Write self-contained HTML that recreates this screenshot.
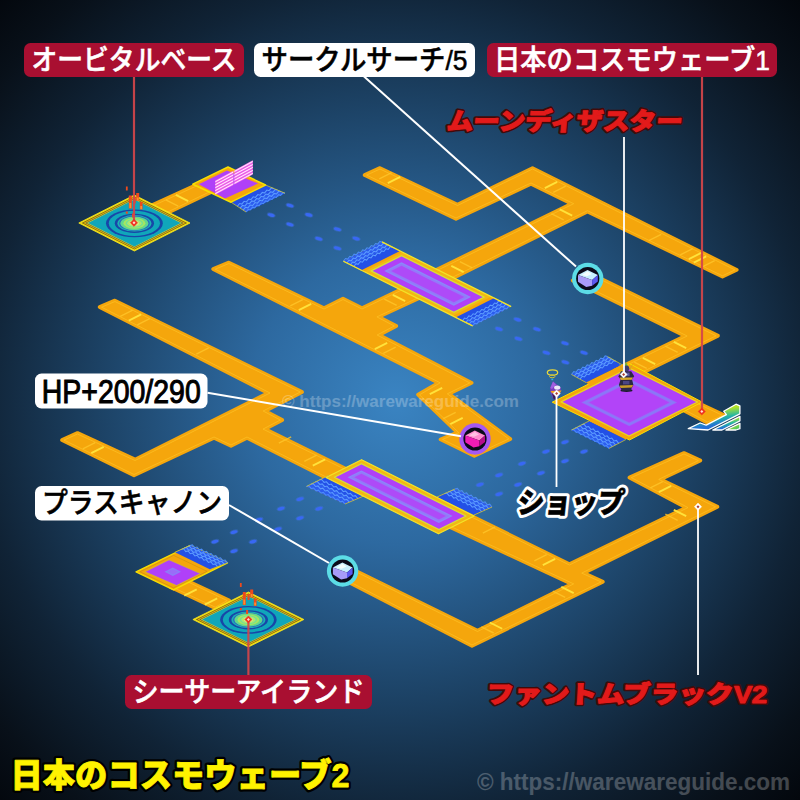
<!DOCTYPE html>
<html lang="ja"><head><meta charset="utf-8"><title>日本のコスモウェーブ2</title>
<style>
html,body{margin:0;padding:0;background:#04080e;}
body{width:800px;height:800px;overflow:hidden;font-family:"Liberation Sans","Noto Sans CJK JP",sans-serif;}
svg{display:block}
.lb{font-family:"Liberation Sans","Noto Sans CJK JP",sans-serif;font-weight:700;font-size:26px;}
.br{font-family:"Liberation Sans","Noto Sans CJK JP",sans-serif;font-weight:900;}
</style></head><body>
<svg width="800" height="800" viewBox="0 0 800 800">
<defs>
<radialGradient id="bg" gradientUnits="userSpaceOnUse" cx="396" cy="400" r="580">
<stop offset="0" stop-color="#3a84c2"/>
<stop offset="0.25" stop-color="#2d69a0"/>
<stop offset="0.5" stop-color="#1d4468"/>
<stop offset="0.72" stop-color="#102336"/>
<stop offset="0.88" stop-color="#081019"/>
<stop offset="1" stop-color="#02050a"/>
</radialGradient>
<linearGradient id="stripe" x1="0.35" y1="0" x2="0.65" y2="1">
<stop offset="0.25" stop-color="#b4e424"/><stop offset="0.55" stop-color="#22b4a8"/><stop offset="0.8" stop-color="#2470d4"/>
</linearGradient>
<linearGradient id="stripe2" x1="0" y1="0" x2="1" y2="1">
<stop offset="0.3" stop-color="#b4e424"/><stop offset="0.9" stop-color="#38c070"/>
</linearGradient>
</defs>
<rect width="800" height="800" fill="url(#bg)"/>

<g stroke-linejoin="round">
<polygon points="364.7,175.1 456.0,218.9 531.0,183.9 571.8,203.7 432.2,271.9 449.5,279.7 587.5,211.6 722.5,276.6 736.7,269.9 532.5,168.1 457.5,204.6 380.0,168.1" fill="#F5A60C" stroke="#F5A60C" stroke-width="3.8"/>
<polygon points="366.6,175.1 456.0,218.0 531.0,183.0 573.7,203.7 434.1,271.9 449.4,278.8 587.5,210.7 722.5,275.8 734.9,269.9 532.5,169.0 457.5,205.5 380.0,169.0" fill="none" stroke="#ffc62a" stroke-width="1.0" opacity="0.6"/>
<polygon points="572.7,280.6 685.3,336.0 614.8,370.0 630.1,378.8 718.0,335.7 589.5,273.1" fill="#F5A60C" stroke="#F5A60C" stroke-width="3.8"/>
<polygon points="574.6,280.6 687.2,336.0 616.5,370.1 630.1,377.9 716.2,335.8 589.4,274.0" fill="none" stroke="#ffc62a" stroke-width="1.0" opacity="0.6"/>
<polygon points="213.2,269.1 438.5,382.9 418.1,394.6 457.4,432.4 440.6,439.4 474.3,455.9 510.3,439.1 448.8,393.9 471.6,382.9 378.9,335.0 396.2,326.0 378.7,316.9 426.2,294.9 409.9,285.2 362.0,308.1 343.0,298.6 324.0,308.1 228.9,262.6" fill="#F5A60C" stroke="#F5A60C" stroke-width="3.8"/>
<polygon points="215.2,269.2 440.2,382.8 419.5,394.8 458.8,432.7 442.5,439.4 474.3,455.0 508.8,438.9 447.3,393.8 469.8,382.9 377.1,335.0 394.4,326.0 376.9,316.9 424.5,294.8 409.9,286.1 362.0,309.0 343.0,299.5 324.0,309.0 228.9,263.5" fill="none" stroke="#ffc62a" stroke-width="1.0" opacity="0.6"/>
<polygon points="99.7,307.1 268.2,393.0 135.0,459.6 77.5,433.1 62.1,440.1 134.0,475.4 214.0,437.9 231.0,445.9 247.0,437.9 338.0,483.9 356.2,474.0 264.8,429.0 282.2,420.0 264.9,411.0 302.0,392.0 114.9,300.6" fill="#F5A60C" stroke="#F5A60C" stroke-width="3.8"/>
<polygon points="101.6,307.2 270.0,393.0 135.0,460.5 77.5,434.0 64.0,440.1 134.0,474.5 214.0,437.0 231.0,445.0 247.0,437.0 338.0,483.0 354.4,474.0 263.0,429.1 280.4,420.0 263.1,411.0 300.3,392.0 114.9,301.5" fill="none" stroke="#ffc62a" stroke-width="1.0" opacity="0.6"/>
<polygon points="447.2,504.2 430.3,517.9 571.9,584.0 477.5,630.6 342.6,564.4 334.8,575.3 352.9,584.3 472.0,645.9 602.8,581.8 583.6,573.1 717.4,506.8 660.6,479.4 700.3,460.6 684.0,453.1 629.5,477.6 686.2,507.6 569.4,564.1" fill="#F5A60C" stroke="#F5A60C" stroke-width="3.8"/>
<polygon points="447.4,505.2 431.8,517.7 573.7,583.9 477.5,631.5 342.9,565.4 336.0,575.0 353.2,583.6 472.0,645.0 601.0,581.9 581.7,573.1 715.6,506.8 658.7,479.4 698.4,460.6 684.0,454.0 631.3,477.6 688.0,507.6 569.4,565.0" fill="none" stroke="#ffc62a" stroke-width="1.0" opacity="0.6"/>
<polygon points="147.1,207.6 164.4,214.4 213.8,190.8 198.5,184.1" fill="#F5A60C" stroke="#F5A60C" stroke-width="3.8"/>
<polygon points="149.1,207.6 164.4,213.6 211.8,190.8 198.5,185.0" fill="none" stroke="#ffc62a" stroke-width="1.0" opacity="0.6"/>
<polygon points="170.1,586.9 215.2,608.1 229.1,600.5 186.9,580.6" fill="#F5A60C" stroke="#F5A60C" stroke-width="3.8"/>
<polygon points="172.1,587.0 215.2,607.2 227.3,600.6 186.9,581.4" fill="none" stroke="#ffc62a" stroke-width="1.0" opacity="0.6"/>
<polygon points="677.4,407.1 707.6,422.9 724.7,415.4 692.0,400.1" fill="#F5A60C" stroke="#F5A60C" stroke-width="3.8"/>
<polygon points="679.2,407.1 707.6,422.0 722.7,415.4 692.0,401.0" fill="none" stroke="#ffc62a" stroke-width="1.0" opacity="0.6"/>
</g>
<line x1="298.8" y1="310.1" x2="311.2" y2="303.9" stroke="#ffe23a" stroke-width="1.8" opacity="1"/>
<line x1="290.3" y1="305.9" x2="302.7" y2="299.6" stroke="#ffc62a" stroke-width="1.4" opacity="0.8"/>
<line x1="374.8" y1="349.1" x2="387.2" y2="342.9" stroke="#ffe23a" stroke-width="1.8" opacity="1"/>
<line x1="383.3" y1="353.4" x2="395.7" y2="347.1" stroke="#ffc62a" stroke-width="1.4" opacity="0.8"/>
<line x1="392.8" y1="294.9" x2="405.2" y2="301.1" stroke="#ffe23a" stroke-width="1.8" opacity="1"/>
<line x1="384.3" y1="299.1" x2="396.7" y2="305.4" stroke="#ffc62a" stroke-width="1.4" opacity="0.8"/>
<line x1="450.3" y1="424.1" x2="462.7" y2="417.9" stroke="#ffe23a" stroke-width="1.8" opacity="1"/>
<line x1="443.3" y1="418.6" x2="455.7" y2="412.4" stroke="#ffc62a" stroke-width="1.4" opacity="0.8"/>
<line x1="429.8" y1="394.1" x2="442.2" y2="387.9" stroke="#ffe23a" stroke-width="1.8" opacity="1"/>
<line x1="387.8" y1="183.1" x2="400.2" y2="176.9" stroke="#ffe23a" stroke-width="1.8" opacity="1"/>
<line x1="379.3" y1="178.8" x2="391.7" y2="172.7" stroke="#ffc62a" stroke-width="1.4" opacity="0.8"/>
<line x1="451.3" y1="265.9" x2="463.7" y2="272.1" stroke="#ffe23a" stroke-width="1.8" opacity="1"/>
<line x1="459.8" y1="261.6" x2="472.2" y2="267.9" stroke="#ffc62a" stroke-width="1.4" opacity="0.8"/>
<line x1="544.8" y1="188.1" x2="557.2" y2="181.9" stroke="#ffe23a" stroke-width="1.8" opacity="1"/>
<line x1="553.3" y1="192.3" x2="565.7" y2="186.2" stroke="#ffc62a" stroke-width="1.4" opacity="0.8"/>
<line x1="559.8" y1="209.4" x2="572.2" y2="215.6" stroke="#ffe23a" stroke-width="1.8" opacity="1"/>
<line x1="551.3" y1="213.7" x2="563.7" y2="219.8" stroke="#ffc62a" stroke-width="1.4" opacity="0.8"/>
<line x1="688.8" y1="259.1" x2="701.2" y2="252.9" stroke="#ffe23a" stroke-width="1.8" opacity="1"/>
<line x1="680.3" y1="254.8" x2="692.7" y2="248.7" stroke="#ffc62a" stroke-width="1.4" opacity="0.8"/>
<line x1="693.8" y1="262.6" x2="706.2" y2="256.4" stroke="#ffe23a" stroke-width="1.8" opacity="1"/>
<line x1="702.3" y1="266.9" x2="714.7" y2="260.6" stroke="#ffc62a" stroke-width="1.4" opacity="0.8"/>
<line x1="648.8" y1="240.6" x2="661.2" y2="234.4" stroke="#ffc62a" stroke-width="1.4" opacity="0.8"/>
<line x1="673.8" y1="341.9" x2="686.2" y2="348.1" stroke="#ffe23a" stroke-width="1.8" opacity="1"/>
<line x1="665.3" y1="346.1" x2="677.7" y2="352.4" stroke="#ffc62a" stroke-width="1.4" opacity="0.8"/>
<line x1="642.8" y1="357.9" x2="655.2" y2="364.1" stroke="#ffe23a" stroke-width="1.8" opacity="1"/>
<line x1="634.3" y1="362.1" x2="646.7" y2="368.4" stroke="#ffc62a" stroke-width="1.4" opacity="0.8"/>
<line x1="128.8" y1="320.6" x2="141.2" y2="314.4" stroke="#ffe23a" stroke-width="1.8" opacity="1"/>
<line x1="137.3" y1="324.9" x2="149.7" y2="318.6" stroke="#ffc62a" stroke-width="1.4" opacity="0.8"/>
<line x1="120.3" y1="316.3" x2="132.7" y2="310.1" stroke="#ffc62a" stroke-width="1.4" opacity="0.8"/>
<line x1="196.3" y1="354.1" x2="208.7" y2="347.9" stroke="#ffc62a" stroke-width="1.4" opacity="0.8"/>
<line x1="91.3" y1="453.1" x2="103.7" y2="446.9" stroke="#ffe23a" stroke-width="1.8" opacity="1"/>
<line x1="82.8" y1="448.9" x2="95.2" y2="442.6" stroke="#ffc62a" stroke-width="1.4" opacity="0.8"/>
<line x1="312.8" y1="465.6" x2="325.2" y2="459.4" stroke="#ffe23a" stroke-width="1.8" opacity="1"/>
<line x1="304.3" y1="461.4" x2="316.7" y2="455.1" stroke="#ffc62a" stroke-width="1.4" opacity="0.8"/>
<line x1="278.8" y1="443.1" x2="291.2" y2="436.9" stroke="#ffc62a" stroke-width="1.4" opacity="0.8"/>
<line x1="542.8" y1="565.1" x2="555.2" y2="558.9" stroke="#ffe23a" stroke-width="1.8" opacity="1"/>
<line x1="534.3" y1="560.9" x2="546.7" y2="554.6" stroke="#ffc62a" stroke-width="1.4" opacity="0.8"/>
<line x1="482.8" y1="533.1" x2="495.2" y2="526.9" stroke="#ffc62a" stroke-width="1.4" opacity="0.8"/>
<line x1="673.8" y1="509.9" x2="686.2" y2="516.1" stroke="#ffe23a" stroke-width="1.8" opacity="1"/>
<line x1="665.3" y1="514.1" x2="677.7" y2="520.4" stroke="#ffc62a" stroke-width="1.4" opacity="0.8"/>
<line x1="658.8" y1="492.1" x2="671.2" y2="485.9" stroke="#ffe23a" stroke-width="1.8" opacity="1"/>
<line x1="650.3" y1="487.9" x2="662.7" y2="481.6" stroke="#ffc62a" stroke-width="1.4" opacity="0.8"/>
<line x1="561.3" y1="586.9" x2="573.7" y2="593.1" stroke="#ffe23a" stroke-width="1.8" opacity="1"/>
<line x1="552.8" y1="591.1" x2="565.2" y2="597.4" stroke="#ffc62a" stroke-width="1.4" opacity="0.8"/>
<line x1="489.8" y1="622.5" x2="502.2" y2="628.7" stroke="#ffe23a" stroke-width="1.8" opacity="1"/>
<line x1="481.3" y1="626.8" x2="493.7" y2="633.0" stroke="#ffc62a" stroke-width="1.4" opacity="0.8"/>
<line x1="175.8" y1="194.9" x2="188.2" y2="201.1" stroke="#ffe23a" stroke-width="1.8" opacity="1"/>
<line x1="165.8" y1="199.9" x2="178.2" y2="206.1" stroke="#ffc62a" stroke-width="1.4" opacity="0.8"/>
<line x1="184.3" y1="595.6" x2="196.7" y2="589.4" stroke="#ffe23a" stroke-width="1.8" opacity="1"/>
<line x1="204.8" y1="604.6" x2="217.2" y2="598.4" stroke="#ffe23a" stroke-width="1.8" opacity="1"/>
<polygon points="343.4,261.2 382.0,242.0 511.0,306.6 472.6,326.0" fill="#F5A60C" />
<polygon points="306.5,486.4 328.5,475.4 367.0,494.6 345.0,504.0" fill="#F5A60C" />
<polygon points="437.0,497.0 455.0,489.0 492.0,507.0 474.0,515.0" fill="#F5A60C" />
<polygon points="361.4,270.2 400.0,251.0 382.0,242.0 343.4,261.2" fill="#2350e6" />
<polygon points="351.5,265.3 390.1,246.1 382.0,242.0 343.4,261.2" fill="#2c5cee" />
<polyline points="353.8,266.5 356.0,263.7 358.1,264.3 360.3,261.6 362.4,262.2 364.6,259.4 366.7,260.1 368.9,257.3 371.0,257.9 373.1,255.1 375.3,255.8 377.4,253.0 379.6,253.6 381.7,250.9 383.9,251.5 386.0,248.7 388.2,249.4 390.3,246.6 392.4,247.2" fill="none" stroke="#5c9cff" stroke-width="1.05" stroke-linejoin="miter"/>
<polyline points="350.4,264.7 352.5,262.0 354.6,262.6 356.8,259.8 358.9,260.5 361.1,257.7 363.2,258.3 365.4,255.5 367.5,256.2 369.7,253.4 371.8,254.0 373.9,251.3 376.1,251.9 378.2,249.1 380.4,249.8 382.5,247.0 384.7,247.6 386.8,244.8 389.0,245.5" fill="none" stroke="#5c9cff" stroke-width="1.05" stroke-linejoin="miter"/>
<polyline points="346.9,263.0 349.0,260.2 351.2,260.9 353.3,258.1 355.5,258.7 357.6,255.9 359.7,256.6 361.9,253.8 364.0,254.4 366.2,251.7 368.3,252.3 370.5,249.5 372.6,250.2 374.8,247.4 376.9,248.0 379.0,245.2 381.2,245.9 383.3,243.1 385.5,243.7" fill="none" stroke="#5c9cff" stroke-width="1.05" stroke-linejoin="miter"/>
<polyline points="343.4,261.2 345.5,258.5 347.7,259.1 349.8,256.3 352.0,257.0 354.1,254.2 356.3,254.8 358.4,252.1 360.6,252.7 362.7,249.9 364.8,250.6 367.0,247.8 369.1,248.4 371.3,245.6 373.4,246.3 375.6,243.5 377.7,244.1 379.9,241.4 382.0,242.0" fill="none" stroke="#4c8cf8" stroke-width="1.05" stroke-linejoin="miter"/>
<polyline points="361.4,270.2 343.4,261.2" fill="none" stroke="#e0d020" stroke-width="0.7"/>
<polyline points="400.0,251.0 382.0,242.0" fill="none" stroke="#e0d020" stroke-width="0.7"/>
<polygon points="455.6,317.4 494.2,298.1 511.0,306.6 472.6,326.0" fill="#2350e6" />
<polygon points="465.0,322.1 503.4,302.8 511.0,306.6 472.6,326.0" fill="#2c5cee" />
<polyline points="462.4,320.8 464.5,318.1 466.7,318.7 468.8,315.9 471.0,316.5 473.1,313.8 475.2,314.4 477.4,311.6 479.5,312.2 481.7,309.5 483.8,310.1 485.9,307.3 488.1,307.9 490.2,305.2 492.4,305.8 494.5,303.0 496.6,303.6 498.8,300.9 500.9,301.5" fill="none" stroke="#5c9cff" stroke-width="1.05" stroke-linejoin="miter"/>
<polyline points="465.8,322.6 467.9,319.8 470.1,320.4 472.2,317.6 474.4,318.3 476.5,315.5 478.6,316.1 480.8,313.3 482.9,314.0 485.0,311.2 487.2,311.8 489.3,309.0 491.5,309.7 493.6,306.9 495.7,307.5 497.9,304.7 500.0,305.4 502.1,302.6 504.3,303.2" fill="none" stroke="#5c9cff" stroke-width="1.05" stroke-linejoin="miter"/>
<polyline points="469.2,324.3 471.3,321.5 473.5,322.1 475.6,319.3 477.7,320.0 479.9,317.2 482.0,317.8 484.1,315.0 486.3,315.7 488.4,312.9 490.6,313.5 492.7,310.7 494.8,311.4 497.0,308.6 499.1,309.2 501.2,306.4 503.4,307.1 505.5,304.3 507.6,304.9" fill="none" stroke="#5c9cff" stroke-width="1.05" stroke-linejoin="miter"/>
<polyline points="472.6,326.0 474.7,323.2 476.9,323.8 479.0,321.1 481.1,321.7 483.3,318.9 485.4,319.5 487.5,316.8 489.7,317.4 491.8,314.6 493.9,315.2 496.1,312.4 498.2,313.1 500.3,310.3 502.5,310.9 504.6,308.1 506.7,308.8 508.9,306.0 511.0,306.6" fill="none" stroke="#4c8cf8" stroke-width="1.05" stroke-linejoin="miter"/>
<polyline points="455.6,317.4 472.6,326.0" fill="none" stroke="#e0d020" stroke-width="0.7"/>
<polyline points="494.2,298.1 511.0,306.6" fill="none" stroke="#e0d020" stroke-width="0.7"/>
<polygon points="328.5,475.4 367.0,494.6 345.0,504.0 306.5,486.4" fill="#2350e6" />
<polygon points="316.4,481.4 354.9,499.8 345.0,504.0 306.5,486.4" fill="#2c5cee" />
<polyline points="319.3,480.0 321.7,479.5 324.1,482.3 326.5,481.8 328.9,484.7 331.3,484.1 333.7,487.0 336.1,486.4 338.5,489.3 340.9,488.7 343.3,491.6 345.7,491.1 348.1,493.9 350.5,493.4 352.9,496.2 355.4,495.7 357.8,498.5" fill="none" stroke="#5c9cff" stroke-width="1.05" stroke-linejoin="miter"/>
<polyline points="315.0,482.1 317.4,481.6 319.8,484.4 322.2,483.9 324.6,486.7 327.0,486.1 329.4,489.0 331.9,488.4 334.3,491.3 336.7,490.7 339.1,493.5 341.5,493.0 343.9,495.8 346.3,495.2 348.7,498.1 351.1,497.5 353.5,500.4" fill="none" stroke="#5c9cff" stroke-width="1.05" stroke-linejoin="miter"/>
<polyline points="310.8,484.3 313.2,483.7 315.6,486.5 318.0,485.9 320.4,488.8 322.8,488.2 325.2,491.0 327.6,490.4 330.0,493.2 332.4,492.6 334.8,495.5 337.2,494.9 339.6,497.7 342.0,497.1 344.4,499.9 346.8,499.4 349.3,502.2" fill="none" stroke="#5c9cff" stroke-width="1.05" stroke-linejoin="miter"/>
<polyline points="306.5,486.4 308.9,485.8 311.3,488.6 313.7,488.0 316.1,490.8 318.5,490.2 320.9,493.0 323.3,492.4 325.8,495.2 328.2,494.6 330.6,497.4 333.0,496.8 335.4,499.6 337.8,499.0 340.2,501.8 342.6,501.2 345.0,504.0" fill="none" stroke="#4c8cf8" stroke-width="1.05" stroke-linejoin="miter"/>
<polyline points="328.5,475.4 306.5,486.4" fill="none" stroke="#e0d020" stroke-width="0.7"/>
<polyline points="367.0,494.6 345.0,504.0" fill="none" stroke="#e0d020" stroke-width="0.7"/>
<polygon points="437.0,497.0 474.0,515.0 492.0,507.0 455.0,489.0" fill="#2350e6" />
<polygon points="446.9,492.6 483.9,510.6 492.0,507.0 455.0,489.0" fill="#2c5cee" />
<polyline points="444.6,493.6 446.9,493.1 449.2,495.9 451.5,495.3 453.8,498.1 456.1,497.6 458.4,500.4 460.7,499.8 463.1,502.6 465.4,502.1 467.7,504.9 470.0,504.3 472.3,507.1 474.6,506.6 476.9,509.4 479.2,508.8 481.6,511.6" fill="none" stroke="#5c9cff" stroke-width="1.05" stroke-linejoin="miter"/>
<polyline points="448.0,492.1 450.4,491.5 452.7,494.3 455.0,493.8 457.3,496.6 459.6,496.0 461.9,498.8 464.2,498.3 466.5,501.1 468.9,500.5 471.2,503.3 473.5,502.8 475.8,505.6 478.1,505.0 480.4,507.8 482.7,507.3 485.0,510.1" fill="none" stroke="#5c9cff" stroke-width="1.05" stroke-linejoin="miter"/>
<polyline points="451.5,490.5 453.8,490.0 456.1,492.8 458.5,492.2 460.8,495.0 463.1,494.5 465.4,497.3 467.7,496.7 470.0,499.5 472.3,499.0 474.6,501.8 477.0,501.2 479.3,504.0 481.6,503.5 483.9,506.3 486.2,505.7 488.5,508.5" fill="none" stroke="#5c9cff" stroke-width="1.05" stroke-linejoin="miter"/>
<polyline points="455.0,489.0 457.3,488.4 459.6,491.2 461.9,490.7 464.2,493.5 466.6,492.9 468.9,495.8 471.2,495.2 473.5,498.0 475.8,497.4 478.1,500.2 480.4,499.7 482.8,502.5 485.1,501.9 487.4,504.8 489.7,504.2 492.0,507.0" fill="none" stroke="#4c8cf8" stroke-width="1.05" stroke-linejoin="miter"/>
<polyline points="437.0,497.0 455.0,489.0" fill="none" stroke="#e0d020" stroke-width="0.7"/>
<polyline points="474.0,515.0 492.0,507.0" fill="none" stroke="#e0d020" stroke-width="0.7"/>
<polygon points="586.0,382.5 622.0,364.7 607.5,356.5 571.5,374.5" fill="#2350e6" />
<polygon points="578.0,378.1 614.0,360.2 607.5,356.5 571.5,374.5" fill="#2c5cee" />
<polyline points="579.9,379.1 582.2,376.3 584.4,376.9 586.7,374.1 588.9,374.7 591.2,371.9 593.4,372.4 595.7,369.6 597.9,370.2 600.2,367.4 602.4,368.0 604.7,365.1 606.9,365.7 609.2,362.9 611.4,363.5 613.7,360.7 615.9,361.3" fill="none" stroke="#5c9cff" stroke-width="1.05" stroke-linejoin="miter"/>
<polyline points="577.1,377.6 579.4,374.8 581.6,375.4 583.9,372.5 586.1,373.1 588.4,370.3 590.6,370.9 592.9,368.1 595.1,368.6 597.4,365.8 599.6,366.4 601.9,363.6 604.1,364.2 606.4,361.3 608.6,361.9 610.9,359.1 613.1,359.7" fill="none" stroke="#5c9cff" stroke-width="1.05" stroke-linejoin="miter"/>
<polyline points="574.3,376.0 576.6,373.2 578.8,373.8 581.1,371.0 583.3,371.6 585.6,368.7 587.8,369.3 590.1,366.5 592.3,367.1 594.6,364.2 596.8,364.8 599.1,362.0 601.3,362.6 603.6,359.8 605.8,360.3 608.1,357.5 610.3,358.1" fill="none" stroke="#5c9cff" stroke-width="1.05" stroke-linejoin="miter"/>
<polyline points="571.5,374.5 573.8,371.7 576.0,372.2 578.2,369.4 580.5,370.0 582.8,367.2 585.0,367.8 587.2,364.9 589.5,365.5 591.8,362.7 594.0,363.2 596.2,360.4 598.5,361.0 600.8,358.2 603.0,358.8 605.2,355.9 607.5,356.5" fill="none" stroke="#4c8cf8" stroke-width="1.05" stroke-linejoin="miter"/>
<polyline points="586.0,382.5 571.5,374.5" fill="none" stroke="#e0d020" stroke-width="0.7"/>
<polyline points="622.0,364.7 607.5,356.5" fill="none" stroke="#e0d020" stroke-width="0.7"/>
<polygon points="589.0,421.0 625.8,439.6 609.0,448.4 571.5,430.0" fill="#2350e6" />
<polygon points="579.4,425.9 616.5,444.4 609.0,448.4 571.5,430.0" fill="#2c5cee" />
<polyline points="581.6,424.8 584.0,424.2 586.3,427.1 588.6,426.6 590.9,429.4 593.2,428.9 595.5,431.7 597.9,431.2 600.2,434.0 602.5,433.5 604.8,436.4 607.1,435.8 609.4,438.7 611.8,438.1 614.1,441.0 616.4,440.4 618.7,443.3" fill="none" stroke="#5c9cff" stroke-width="1.05" stroke-linejoin="miter"/>
<polyline points="578.3,426.5 580.6,426.0 582.9,428.8 585.2,428.3 587.6,431.1 589.9,430.6 592.2,433.4 594.5,432.9 596.9,435.8 599.2,435.2 601.5,438.1 603.8,437.5 606.2,440.4 608.5,439.8 610.8,442.7 613.2,442.1 615.5,445.0" fill="none" stroke="#5c9cff" stroke-width="1.05" stroke-linejoin="miter"/>
<polyline points="574.9,428.3 577.2,427.7 579.6,430.6 581.9,430.0 584.2,432.9 586.6,432.3 588.9,435.2 591.2,434.6 593.6,437.5 595.9,436.9 598.2,439.8 600.6,439.2 602.9,442.1 605.2,441.5 607.6,444.4 609.9,443.8 612.2,446.7" fill="none" stroke="#5c9cff" stroke-width="1.05" stroke-linejoin="miter"/>
<polyline points="571.5,430.0 573.8,429.4 576.2,432.3 578.5,431.8 580.9,434.6 583.2,434.1 585.6,436.9 587.9,436.4 590.2,439.2 592.6,438.6 594.9,441.5 597.3,440.9 599.6,443.8 602.0,443.2 604.3,446.1 606.7,445.6 609.0,448.4" fill="none" stroke="#4c8cf8" stroke-width="1.05" stroke-linejoin="miter"/>
<polyline points="589.0,421.0 571.5,430.0" fill="none" stroke="#e0d020" stroke-width="0.7"/>
<polyline points="625.8,439.6 609.0,448.4" fill="none" stroke="#e0d020" stroke-width="0.7"/>
<polygon points="231.0,202.2 265.5,185.0 285.0,193.2 246.0,212.0" fill="#2350e6" />
<polygon points="239.2,207.6 276.2,189.5 285.0,193.2 246.0,212.0" fill="#2c5cee" />
<polyline points="237.3,206.3 239.6,203.5 241.8,204.1 244.1,201.3 246.4,201.9 248.7,199.1 250.9,199.6 253.2,196.8 255.5,197.4 257.8,194.6 260.0,195.2 262.3,192.4 264.6,192.9 266.9,190.1 269.1,190.7 271.4,187.9 273.7,188.5" fill="none" stroke="#5c9cff" stroke-width="1.05" stroke-linejoin="miter"/>
<polyline points="240.2,208.2 242.5,205.4 244.9,206.0 247.2,203.1 249.5,203.7 251.8,200.9 254.2,201.4 256.5,198.6 258.8,199.1 261.2,196.3 263.5,196.9 265.8,194.0 268.1,194.6 270.5,191.8 272.8,192.3 275.1,189.5 277.5,190.1" fill="none" stroke="#5c9cff" stroke-width="1.05" stroke-linejoin="miter"/>
<polyline points="243.1,210.1 245.5,207.3 247.9,207.8 250.2,205.0 252.6,205.5 255.0,202.6 257.4,203.2 259.8,200.3 262.2,200.9 264.5,198.0 266.9,198.6 269.3,195.7 271.7,196.3 274.1,193.4 276.5,194.0 278.8,191.1 281.2,191.7" fill="none" stroke="#5c9cff" stroke-width="1.05" stroke-linejoin="miter"/>
<polyline points="246.0,212.0 248.2,209.3 250.3,209.9 252.5,207.2 254.7,207.8 256.8,205.1 259.0,205.8 261.2,203.0 263.3,203.7 265.5,200.9 267.7,201.6 269.8,198.8 272.0,199.5 274.2,196.8 276.3,197.4 278.5,194.7 280.7,195.3 282.8,192.6 285.0,193.2" fill="none" stroke="#4c8cf8" stroke-width="1.05" stroke-linejoin="miter"/>
<polyline points="231.0,202.2 246.0,212.0" fill="none" stroke="#e0d020" stroke-width="0.7"/>
<polyline points="265.5,185.0 285.0,193.2" fill="none" stroke="#e0d020" stroke-width="0.7"/>
<polygon points="363.9,271.5 402.5,252.2 491.2,296.6 452.6,315.9" fill="#f2b814" />
<polygon points="371.1,270.9 401.5,255.7 484.2,297.1 453.8,312.2" fill="#b040f8" stroke="#d6e234" stroke-width="1.2" stroke-linejoin="round" />
<polygon points="384.3,270.9 401.5,262.3 471.0,297.1 453.8,305.7" fill="#8a88fa" />
<polygon points="387.1,270.9 401.5,263.7 468.2,297.1 453.8,304.2" fill="#9478f8" />
<polygon points="391.1,270.9 401.5,265.7 464.2,297.1 453.8,302.2" fill="#ae4af8" />
<polyline points="343.4,261.2 472.6,325.9" fill="none" stroke="#f2e428" stroke-width="1.2"/>
<polyline points="382.0,241.9 511.2,306.6" fill="none" stroke="#f2e428" stroke-width="1.2"/>
<polygon points="326.0,477.5 361.6,459.7 474.1,516.0 438.5,533.8" fill="#f2b814" stroke="#f2e428" stroke-width="1.2" stroke-linejoin="round" />
<polygon points="334.4,477.3 361.4,463.8 465.9,516.0 438.9,529.5" fill="#b040f8" stroke="#d6e234" stroke-width="1.2" stroke-linejoin="round" />
<polygon points="347.6,477.3 361.4,470.4 452.7,516.1 438.9,523.0" fill="#8a88fa" />
<polygon points="350.4,477.3 361.4,471.8 449.9,516.0 438.9,521.5" fill="#9478f8" />
<polygon points="354.4,477.3 361.4,473.8 445.9,516.0 438.9,519.5" fill="#ae4af8" />
<polygon points="552.2,402.2 629.5,363.6 702.0,402.0 629.5,440.0" fill="#F5A60C" stroke="#F7E000" stroke-width="1.0" stroke-linejoin="round" />
<polygon points="586.0,382.5 622.0,364.7 632.0,369.0 594.0,388.0" fill="#F5A60C" />
<polygon points="589.0,421.0 625.8,439.6 631.0,436.0 593.0,417.5" fill="#F5A60C" />
<polygon points="561.0,401.9 629.0,368.0 697.5,402.0 629.0,436.0" fill="#b040f8" stroke="#e8d820" stroke-width="1.2" stroke-linejoin="round" />
<polygon points="581.2,402.4 629.2,378.5 677.2,402.4 629.2,426.3" fill="#9c64f8" />
<polygon points="582.7,402.4 629.2,379.2 675.7,402.4 629.2,425.6" fill="#8a78f8" />
<polygon points="587.2,402.4 629.2,381.4 671.2,402.4 629.2,423.4" fill="#9a68f8" />
<polygon points="589.2,402.4 629.2,382.4 669.2,402.4 629.2,422.4" fill="#b244f8" />
<polygon points="192.8,184.2 228.0,167.0 265.5,185.0 231.0,202.2" fill="#F5A60C" stroke="#F7E000" stroke-width="1.5" stroke-linejoin="round" />
<polygon points="198.8,184.2 227.0,170.5 258.0,183.5 225.0,198.5" fill="#b040f8" />
<polygon points="215.3,180.5 233.4,170.7 233.4,185.1 215.3,194.8" fill="#ff7af0"/>
<polyline points="215.3,181.8 233.4,172.0" stroke="#fff2ff" stroke-width="0.95" fill="none"/>
<polyline points="215.3,184.7 233.4,174.9" stroke="#fff2ff" stroke-width="0.95" fill="none"/>
<polyline points="215.3,183.2 233.4,173.5" stroke="#c848d8" stroke-width="0.55" fill="none"/>
<polyline points="215.3,187.7 233.4,177.9" stroke="#fff2ff" stroke-width="0.95" fill="none"/>
<polyline points="215.3,186.2 233.4,176.4" stroke="#c848d8" stroke-width="0.55" fill="none"/>
<polyline points="215.3,190.6 233.4,180.8" stroke="#fff2ff" stroke-width="0.95" fill="none"/>
<polyline points="215.3,189.2 233.4,179.4" stroke="#c848d8" stroke-width="0.55" fill="none"/>
<polyline points="215.3,193.6 233.4,183.8" stroke="#fff2ff" stroke-width="0.95" fill="none"/>
<polyline points="215.3,192.1 233.4,182.3" stroke="#c848d8" stroke-width="0.55" fill="none"/>
<polygon points="234.4,170.2 252.8,160.3 252.8,174.6 234.4,184.6" fill="#ff7af0"/>
<polyline points="234.4,171.5 252.8,161.5" stroke="#fff2ff" stroke-width="0.95" fill="none"/>
<polyline points="234.4,174.4 252.8,164.5" stroke="#fff2ff" stroke-width="0.95" fill="none"/>
<polyline points="234.4,173.0 252.8,163.0" stroke="#c848d8" stroke-width="0.55" fill="none"/>
<polyline points="234.4,177.4 252.8,167.4" stroke="#fff2ff" stroke-width="0.95" fill="none"/>
<polyline points="234.4,175.9 252.8,166.0" stroke="#c848d8" stroke-width="0.55" fill="none"/>
<polyline points="234.4,180.3 252.8,170.4" stroke="#fff2ff" stroke-width="0.95" fill="none"/>
<polyline points="234.4,178.9 252.8,168.9" stroke="#c848d8" stroke-width="0.55" fill="none"/>
<polyline points="234.4,183.3 252.8,173.3" stroke="#fff2ff" stroke-width="0.95" fill="none"/>
<polyline points="234.4,181.8 252.8,171.9" stroke="#c848d8" stroke-width="0.55" fill="none"/>
<polygon points="136.0,571.8 190.0,545.5 227.5,562.8 173.5,589.8" fill="#F5A60C" stroke="#F7E000" stroke-width="1.3" stroke-linejoin="round" />
<polygon points="140.0,571.8 173.6,555.4 207.0,571.3 173.5,587.8" fill="none" stroke="#c89010" stroke-width="0.6" stroke-linejoin="round" />
<polygon points="145.0,571.8 169.0,559.8 200.5,573.6 176.5,585.6" fill="#b040f8" stroke="#d8c020" stroke-width="0.7" stroke-linejoin="round" />
<polygon points="164.5,571.8 172.8,567.5 181.0,571.8 172.8,576.0" fill="#8c7cf8" />
<polygon points="167.5,571.8 172.8,569.1 178.0,571.8 172.8,574.4" fill="#9a6cf8" />
<polygon points="175.0,552.2 210.2,569.5 227.5,562.8 190.0,545.5" fill="#2350e6" />
<polygon points="183.2,548.5 219.7,565.8 227.5,562.8 190.0,545.5" fill="#2c5cee" />
<polyline points="181.3,549.4 183.6,548.8 185.8,551.6 188.1,550.9 190.3,553.7 192.6,553.1 194.9,555.9 197.1,555.3 199.4,558.0 201.7,557.4 203.9,560.2 206.2,559.6 208.4,562.4 210.7,561.7 213.0,564.5 215.2,563.9 217.5,566.7" fill="none" stroke="#5c9cff" stroke-width="1.05" stroke-linejoin="miter"/>
<polyline points="184.2,548.1 186.5,547.5 188.8,550.3 191.1,549.6 193.4,552.4 195.6,551.8 197.9,554.6 200.2,554.0 202.5,556.7 204.8,556.1 207.1,558.9 209.4,558.3 211.7,561.0 214.0,560.4 216.3,563.2 218.5,562.6 220.8,565.4" fill="none" stroke="#5c9cff" stroke-width="1.05" stroke-linejoin="miter"/>
<polyline points="187.1,546.8 189.4,546.2 191.7,549.0 194.0,548.3 196.4,551.1 198.7,550.5 201.0,553.3 203.3,552.7 205.6,555.4 207.9,554.8 210.3,557.6 212.6,557.0 214.9,559.7 217.2,559.1 219.5,561.9 221.8,561.3 224.2,564.1" fill="none" stroke="#5c9cff" stroke-width="1.05" stroke-linejoin="miter"/>
<polyline points="190.0,545.5 192.3,544.9 194.7,547.7 197.0,547.0 199.4,549.8 201.7,549.2 204.1,552.0 206.4,551.3 208.8,554.1 211.1,553.5 213.4,556.3 215.8,555.7 218.1,558.4 220.5,557.8 222.8,560.6 225.2,560.0 227.5,562.8" fill="none" stroke="#4c8cf8" stroke-width="1.05" stroke-linejoin="miter"/>
<polyline points="175.0,552.2 190.0,545.5" fill="none" stroke="#e0d020" stroke-width="0.7"/>
<polyline points="210.2,569.5 227.5,562.8" fill="none" stroke="#e0d020" stroke-width="0.7"/>
<ellipse cx="290.0" cy="205.5" rx="4.6" ry="2.4" fill="#4a7cf4" opacity="0.3" transform="rotate(16.0 290.0 205.5)"/>
<ellipse cx="290.0" cy="205.5" rx="3.6" ry="1.6" fill="#3868f4" transform="rotate(16.0 290.0 205.5)"/>
<ellipse cx="308.8" cy="214.9" rx="4.6" ry="2.4" fill="#4a7cf4" opacity="0.3" transform="rotate(16.0 308.8 214.9)"/>
<ellipse cx="308.8" cy="214.9" rx="3.6" ry="1.6" fill="#3868f4" transform="rotate(16.0 308.8 214.9)"/>
<ellipse cx="337.5" cy="229.2" rx="4.6" ry="2.4" fill="#4a7cf4" opacity="0.3" transform="rotate(16.0 337.5 229.2)"/>
<ellipse cx="337.5" cy="229.2" rx="3.6" ry="1.6" fill="#3868f4" transform="rotate(16.0 337.5 229.2)"/>
<ellipse cx="356.2" cy="238.6" rx="4.6" ry="2.4" fill="#4a7cf4" opacity="0.3" transform="rotate(16.0 356.2 238.6)"/>
<ellipse cx="356.2" cy="238.6" rx="3.6" ry="1.6" fill="#3868f4" transform="rotate(16.0 356.2 238.6)"/>
<ellipse cx="271.2" cy="215.1" rx="4.6" ry="2.4" fill="#4a7cf4" opacity="0.3" transform="rotate(16.0 271.2 215.1)"/>
<ellipse cx="271.2" cy="215.1" rx="3.6" ry="1.6" fill="#3868f4" transform="rotate(16.0 271.2 215.1)"/>
<ellipse cx="290.0" cy="224.5" rx="4.6" ry="2.4" fill="#4a7cf4" opacity="0.3" transform="rotate(16.0 290.0 224.5)"/>
<ellipse cx="290.0" cy="224.5" rx="3.6" ry="1.6" fill="#3868f4" transform="rotate(16.0 290.0 224.5)"/>
<ellipse cx="318.8" cy="238.8" rx="4.6" ry="2.4" fill="#4a7cf4" opacity="0.3" transform="rotate(16.0 318.8 238.8)"/>
<ellipse cx="318.8" cy="238.8" rx="3.6" ry="1.6" fill="#3868f4" transform="rotate(16.0 318.8 238.8)"/>
<ellipse cx="337.5" cy="248.2" rx="4.6" ry="2.4" fill="#4a7cf4" opacity="0.3" transform="rotate(16.0 337.5 248.2)"/>
<ellipse cx="337.5" cy="248.2" rx="3.6" ry="1.6" fill="#3868f4" transform="rotate(16.0 337.5 248.2)"/>
<ellipse cx="517.6" cy="319.6" rx="4.6" ry="2.4" fill="#4a7cf4" opacity="0.3" transform="rotate(16.0 517.6 319.6)"/>
<ellipse cx="517.6" cy="319.6" rx="3.6" ry="1.6" fill="#3868f4" transform="rotate(16.0 517.6 319.6)"/>
<ellipse cx="537.0" cy="329.3" rx="4.6" ry="2.4" fill="#4a7cf4" opacity="0.3" transform="rotate(16.0 537.0 329.3)"/>
<ellipse cx="537.0" cy="329.3" rx="3.6" ry="1.6" fill="#3868f4" transform="rotate(16.0 537.0 329.3)"/>
<ellipse cx="565.0" cy="343.3" rx="4.6" ry="2.4" fill="#4a7cf4" opacity="0.3" transform="rotate(16.0 565.0 343.3)"/>
<ellipse cx="565.0" cy="343.3" rx="3.6" ry="1.6" fill="#3868f4" transform="rotate(16.0 565.0 343.3)"/>
<ellipse cx="584.0" cy="352.8" rx="4.6" ry="2.4" fill="#4a7cf4" opacity="0.3" transform="rotate(16.0 584.0 352.8)"/>
<ellipse cx="584.0" cy="352.8" rx="3.6" ry="1.6" fill="#3868f4" transform="rotate(16.0 584.0 352.8)"/>
<ellipse cx="499.0" cy="329.0" rx="4.6" ry="2.4" fill="#4a7cf4" opacity="0.3" transform="rotate(16.0 499.0 329.0)"/>
<ellipse cx="499.0" cy="329.0" rx="3.6" ry="1.6" fill="#3868f4" transform="rotate(16.0 499.0 329.0)"/>
<ellipse cx="518.4" cy="338.7" rx="4.6" ry="2.4" fill="#4a7cf4" opacity="0.3" transform="rotate(16.0 518.4 338.7)"/>
<ellipse cx="518.4" cy="338.7" rx="3.6" ry="1.6" fill="#3868f4" transform="rotate(16.0 518.4 338.7)"/>
<ellipse cx="546.4" cy="352.7" rx="4.6" ry="2.4" fill="#4a7cf4" opacity="0.3" transform="rotate(16.0 546.4 352.7)"/>
<ellipse cx="546.4" cy="352.7" rx="3.6" ry="1.6" fill="#3868f4" transform="rotate(16.0 546.4 352.7)"/>
<ellipse cx="565.4" cy="362.2" rx="4.6" ry="2.4" fill="#4a7cf4" opacity="0.3" transform="rotate(16.0 565.4 362.2)"/>
<ellipse cx="565.4" cy="362.2" rx="3.6" ry="1.6" fill="#3868f4" transform="rotate(16.0 565.4 362.2)"/>
<ellipse cx="480.0" cy="484.6" rx="4.6" ry="2.4" fill="#4a7cf4" opacity="0.3" transform="rotate(-16.0 480.0 484.6)"/>
<ellipse cx="480.0" cy="484.6" rx="3.6" ry="1.6" fill="#3868f4" transform="rotate(-16.0 480.0 484.6)"/>
<ellipse cx="499.0" cy="475.1" rx="4.6" ry="2.4" fill="#4a7cf4" opacity="0.3" transform="rotate(-16.0 499.0 475.1)"/>
<ellipse cx="499.0" cy="475.1" rx="3.6" ry="1.6" fill="#3868f4" transform="rotate(-16.0 499.0 475.1)"/>
<ellipse cx="522.0" cy="463.6" rx="4.6" ry="2.4" fill="#4a7cf4" opacity="0.3" transform="rotate(-16.0 522.0 463.6)"/>
<ellipse cx="522.0" cy="463.6" rx="3.6" ry="1.6" fill="#3868f4" transform="rotate(-16.0 522.0 463.6)"/>
<ellipse cx="546.0" cy="451.6" rx="4.6" ry="2.4" fill="#4a7cf4" opacity="0.3" transform="rotate(-16.0 546.0 451.6)"/>
<ellipse cx="546.0" cy="451.6" rx="3.6" ry="1.6" fill="#3868f4" transform="rotate(-16.0 546.0 451.6)"/>
<ellipse cx="565.0" cy="442.1" rx="4.6" ry="2.4" fill="#4a7cf4" opacity="0.3" transform="rotate(-16.0 565.0 442.1)"/>
<ellipse cx="565.0" cy="442.1" rx="3.6" ry="1.6" fill="#3868f4" transform="rotate(-16.0 565.0 442.1)"/>
<ellipse cx="499.0" cy="494.1" rx="4.6" ry="2.4" fill="#4a7cf4" opacity="0.3" transform="rotate(-16.0 499.0 494.1)"/>
<ellipse cx="499.0" cy="494.1" rx="3.6" ry="1.6" fill="#3868f4" transform="rotate(-16.0 499.0 494.1)"/>
<ellipse cx="518.0" cy="484.6" rx="4.6" ry="2.4" fill="#4a7cf4" opacity="0.3" transform="rotate(-16.0 518.0 484.6)"/>
<ellipse cx="518.0" cy="484.6" rx="3.6" ry="1.6" fill="#3868f4" transform="rotate(-16.0 518.0 484.6)"/>
<ellipse cx="541.0" cy="473.1" rx="4.6" ry="2.4" fill="#4a7cf4" opacity="0.3" transform="rotate(-16.0 541.0 473.1)"/>
<ellipse cx="541.0" cy="473.1" rx="3.6" ry="1.6" fill="#3868f4" transform="rotate(-16.0 541.0 473.1)"/>
<ellipse cx="565.0" cy="461.1" rx="4.6" ry="2.4" fill="#4a7cf4" opacity="0.3" transform="rotate(-16.0 565.0 461.1)"/>
<ellipse cx="565.0" cy="461.1" rx="3.6" ry="1.6" fill="#3868f4" transform="rotate(-16.0 565.0 461.1)"/>
<ellipse cx="584.0" cy="451.6" rx="4.6" ry="2.4" fill="#4a7cf4" opacity="0.3" transform="rotate(-16.0 584.0 451.6)"/>
<ellipse cx="584.0" cy="451.6" rx="3.6" ry="1.6" fill="#3868f4" transform="rotate(-16.0 584.0 451.6)"/>
<ellipse cx="215.0" cy="541.6" rx="4.6" ry="2.4" fill="#4a7cf4" opacity="0.3" transform="rotate(-16.0 215.0 541.6)"/>
<ellipse cx="215.0" cy="541.6" rx="3.6" ry="1.6" fill="#3868f4" transform="rotate(-16.0 215.0 541.6)"/>
<ellipse cx="234.0" cy="532.1" rx="4.6" ry="2.4" fill="#4a7cf4" opacity="0.3" transform="rotate(-16.0 234.0 532.1)"/>
<ellipse cx="234.0" cy="532.1" rx="3.6" ry="1.6" fill="#3868f4" transform="rotate(-16.0 234.0 532.1)"/>
<ellipse cx="259.0" cy="519.6" rx="4.6" ry="2.4" fill="#4a7cf4" opacity="0.3" transform="rotate(-16.0 259.0 519.6)"/>
<ellipse cx="259.0" cy="519.6" rx="3.6" ry="1.6" fill="#3868f4" transform="rotate(-16.0 259.0 519.6)"/>
<ellipse cx="281.0" cy="508.6" rx="4.6" ry="2.4" fill="#4a7cf4" opacity="0.3" transform="rotate(-16.0 281.0 508.6)"/>
<ellipse cx="281.0" cy="508.6" rx="3.6" ry="1.6" fill="#3868f4" transform="rotate(-16.0 281.0 508.6)"/>
<ellipse cx="300.0" cy="499.1" rx="4.6" ry="2.4" fill="#4a7cf4" opacity="0.3" transform="rotate(-16.0 300.0 499.1)"/>
<ellipse cx="300.0" cy="499.1" rx="3.6" ry="1.6" fill="#3868f4" transform="rotate(-16.0 300.0 499.1)"/>
<ellipse cx="234.0" cy="551.1" rx="4.6" ry="2.4" fill="#4a7cf4" opacity="0.3" transform="rotate(-16.0 234.0 551.1)"/>
<ellipse cx="234.0" cy="551.1" rx="3.6" ry="1.6" fill="#3868f4" transform="rotate(-16.0 234.0 551.1)"/>
<ellipse cx="253.0" cy="541.6" rx="4.6" ry="2.4" fill="#4a7cf4" opacity="0.3" transform="rotate(-16.0 253.0 541.6)"/>
<ellipse cx="253.0" cy="541.6" rx="3.6" ry="1.6" fill="#3868f4" transform="rotate(-16.0 253.0 541.6)"/>
<ellipse cx="278.0" cy="529.1" rx="4.6" ry="2.4" fill="#4a7cf4" opacity="0.3" transform="rotate(-16.0 278.0 529.1)"/>
<ellipse cx="278.0" cy="529.1" rx="3.6" ry="1.6" fill="#3868f4" transform="rotate(-16.0 278.0 529.1)"/>
<ellipse cx="300.0" cy="518.1" rx="4.6" ry="2.4" fill="#4a7cf4" opacity="0.3" transform="rotate(-16.0 300.0 518.1)"/>
<ellipse cx="300.0" cy="518.1" rx="3.6" ry="1.6" fill="#3868f4" transform="rotate(-16.0 300.0 518.1)"/>
<ellipse cx="319.0" cy="508.6" rx="4.6" ry="2.4" fill="#4a7cf4" opacity="0.3" transform="rotate(-16.0 319.0 508.6)"/>
<ellipse cx="319.0" cy="508.6" rx="3.6" ry="1.6" fill="#3868f4" transform="rotate(-16.0 319.0 508.6)"/>
<polygon points="78.8,223.0 134.4,195.0 190.0,223.0 134.4,251.0" fill="#f6dc10" stroke="#f8e820" stroke-width="0.8" stroke-linejoin="round" />
<polygon points="81.6,223.0 134.4,196.4 187.2,223.0 134.4,249.6" fill="#7a6c10" />
<polygon points="83.4,223.0 134.4,197.3 185.4,223.0 134.4,248.7" fill="#f2b408" />
<polygon points="85.2,223.0 134.4,198.2 183.6,223.0 134.4,247.8" fill="#5a6a40" />
<polygon points="86.7,223.0 134.4,199.0 182.1,223.0 134.4,247.0" fill="#e0d428" />
<polygon points="88.0,223.0 134.4,199.6 180.8,223.0 134.4,246.4" fill="#10a6ba" />
<ellipse cx="134.4" cy="223.3" rx="28.4" ry="13.9" fill="#1846a8"/>
<ellipse cx="134.4" cy="223.3" rx="25.6" ry="12.6" fill="#10a6ba"/>
<ellipse cx="134.4" cy="223.3" rx="19.6" ry="9.6" fill="#1846a8"/>
<ellipse cx="134.4" cy="223.3" rx="17.0" ry="8.3" fill="#1cb2b4"/>
<ellipse cx="134.4" cy="223.3" rx="15.2" ry="7.5" fill="#2464c4"/>
<ellipse cx="134.4" cy="223.3" rx="14.0" ry="6.9" fill="#62d88c"/>
<ellipse cx="134.4" cy="223.3" rx="11.0" ry="5.4" fill="#a6e662"/>
<ellipse cx="134.4" cy="223.3" rx="8.6" ry="4.2" fill="#6ee09c"/>
<ellipse cx="134.4" cy="223.3" rx="7.2" ry="3.5" fill="#b0e870"/>
<ellipse cx="134.4" cy="223.3" rx="4.6" ry="2.3" fill="#d6ee82"/>
<rect x="128.8" y="195.5" width="3.0" height="13" fill="#ee4a1c"/>
<rect x="136.2" y="193.0" width="3.0" height="8" fill="#ee4a1c"/>
<rect x="139.8" y="202.0" width="2.8" height="7.5" fill="#ee4a1c"/>
<rect x="133.5" y="197.5" width="2.2" height="6" fill="#ee4a1c"/>
<rect x="125.9" y="186.5" width="1.8" height="4" fill="#ee4a1c"/>
<rect x="125.8" y="211.5" width="2.0" height="2.2" fill="#ee4a1c"/>
<rect x="132.1" y="213.5" width="2.0" height="4" fill="#ee4a1c"/>
<rect x="129.4" y="203.0" width="1.8" height="5" fill="#f89030"/>
<rect x="136.8" y="197.5" width="1.8" height="3.2" fill="#f89030"/>
<rect x="140.3" y="206.0" width="1.8" height="3" fill="#f89030"/>
<polygon points="192.9,619.5 248.4,592.0 303.9,619.5 248.4,647.0" fill="#f6dc10" stroke="#f8e820" stroke-width="0.8" stroke-linejoin="round" />
<polygon points="195.7,619.5 248.4,593.4 301.1,619.5 248.4,645.6" fill="#7a6c10" />
<polygon points="197.5,619.5 248.4,594.3 299.3,619.5 248.4,644.7" fill="#f2b408" />
<polygon points="199.3,619.5 248.4,595.2 297.5,619.5 248.4,643.8" fill="#5a6a40" />
<polygon points="200.8,619.5 248.4,595.9 296.0,619.5 248.4,643.1" fill="#e0d428" />
<polygon points="202.1,619.5 248.4,596.5 294.7,619.5 248.4,642.5" fill="#10a6ba" />
<ellipse cx="248.4" cy="619.8" rx="28.3" ry="13.9" fill="#1846a8"/>
<ellipse cx="248.4" cy="619.8" rx="25.6" ry="12.5" fill="#10a6ba"/>
<ellipse cx="248.4" cy="619.8" rx="19.6" ry="9.6" fill="#1846a8"/>
<ellipse cx="248.4" cy="619.8" rx="17.0" ry="8.3" fill="#1cb2b4"/>
<ellipse cx="248.4" cy="619.8" rx="15.2" ry="7.4" fill="#2464c4"/>
<ellipse cx="248.4" cy="619.8" rx="14.0" ry="6.9" fill="#62d88c"/>
<ellipse cx="248.4" cy="619.8" rx="11.0" ry="5.4" fill="#a6e662"/>
<ellipse cx="248.4" cy="619.8" rx="8.6" ry="4.2" fill="#6ee09c"/>
<ellipse cx="248.4" cy="619.8" rx="7.2" ry="3.5" fill="#b0e870"/>
<ellipse cx="248.4" cy="619.8" rx="4.6" ry="2.3" fill="#d6ee82"/>
<rect x="242.8" y="592.0" width="3.0" height="13" fill="#ee4a1c"/>
<rect x="250.2" y="589.5" width="3.0" height="8" fill="#ee4a1c"/>
<rect x="253.8" y="598.5" width="2.8" height="7.5" fill="#ee4a1c"/>
<rect x="247.5" y="594.0" width="2.2" height="6" fill="#ee4a1c"/>
<rect x="239.9" y="583.0" width="1.8" height="4" fill="#ee4a1c"/>
<rect x="239.8" y="608.0" width="2.0" height="2.2" fill="#ee4a1c"/>
<rect x="246.1" y="610.0" width="2.0" height="4" fill="#ee4a1c"/>
<rect x="243.4" y="599.5" width="1.8" height="5" fill="#f89030"/>
<rect x="250.8" y="594.0" width="1.8" height="3.2" fill="#f89030"/>
<rect x="254.3" y="602.5" width="1.8" height="3" fill="#f89030"/>
<g stroke="#ffffff" stroke-width="1.3" stroke-linejoin="round">
<polygon points="688.3,428.7 700.1,423.0 706.2,425.2 726.4,414.7 723.7,411.2 736.0,404.2 739.9,405.9 739.9,413.8 708.0,430.0" fill="url(#stripe)"/>
<polygon points="712.8,430.0 739.9,416.4 739.9,420.8 722.0,430.0" fill="url(#stripe)"/>
<polygon points="725.9,430.0 739.9,423.4 739.9,428.7 736.0,430.0" fill="url(#stripe2)"/>
</g>
<circle cx="587.75" cy="278.5" r="15.7" fill="#5cdce6"/>
<circle cx="587.75" cy="278.5" r="11.6" fill="#0b0b1a"/>
<polygon points="578.0,275.1 587.5,269.9 597.8,275.1 592.1,280.1" fill="#c8f0ff"/>
<polygon points="581.8,274.9 587.5,271.3 591.8,273.9 586.8,276.3" fill="#f4ffff"/>
<polygon points="578.0,275.1 592.1,280.1 592.1,285.7 586.2,286.9 578.0,281.7" fill="#a89cf8"/>
<polygon points="592.1,280.1 597.8,275.1 597.8,281.5 592.1,285.7" fill="#5c58f0"/>
<circle cx="342.6" cy="571" r="15.7" fill="#5cdce6"/>
<circle cx="342.6" cy="571" r="11.6" fill="#0b0b1a"/>
<polygon points="332.9,567.6 342.4,562.4 352.6,567.6 347.0,572.6" fill="#c8f0ff"/>
<polygon points="336.6,567.4 342.4,563.8 346.6,566.4 341.6,568.8" fill="#f4ffff"/>
<polygon points="332.9,567.6 347.0,572.6 347.0,578.2 341.1,579.4 332.9,574.2" fill="#a89cf8"/>
<polygon points="347.0,572.6 352.6,567.6 352.6,574.0 347.0,578.2" fill="#5c58f0"/>
<circle cx="475" cy="439" r="15.7" fill="#a458f2"/>
<circle cx="475" cy="439" r="11.6" fill="#0b0b1a"/>
<polygon points="465.3,435.6 474.8,430.4 485.0,435.6 479.4,440.6" fill="#ff8cd0"/>
<polygon points="469.0,435.4 474.8,431.8 479.0,434.4 474.0,436.8" fill="#ffc0e4"/>
<polygon points="465.3,435.6 479.4,440.6 479.4,446.2 473.5,447.4 465.3,442.2" fill="#f01cb4"/>
<polygon points="479.4,440.6 485.0,435.6 485.0,442.0 479.4,446.2" fill="#b80c8c"/>
<ellipse cx="552.5" cy="372.5" rx="5.2" ry="2.7" fill="none" stroke="#e8d83a" stroke-width="1.2"/>
<ellipse cx="552.2" cy="376.4" rx="2.7" ry="1.4" fill="none" stroke="#d8c832" stroke-width="1"/>
<rect x="551.4" y="378.8" width="1.8" height="1.4" fill="#30b8d8"/>
<path d="M553 381.5 L557.5 385 L561 388 L560.5 392 L557 399.5 L553.5 399 L550.5 393 L550 388 Z" fill="#7a3cc0"/>
<path d="M553 381.5 L556 384.5 L552 389 L550.3 388 Z" fill="#a060e0"/>
<ellipse cx="557.2" cy="387.6" rx="3.1" ry="2.2" fill="#ece8f8"/>
<path d="M550.5 391 L561.5 390.5 L560 393 L552 393.2 Z" fill="#f0a020"/>
<path d="M552 393.2 L558.5 393.2 L557 399.6 L553.6 399.2 Z" fill="#3a1c58"/>
<ellipse cx="626.5" cy="390.4" rx="6" ry="1.7" fill="#1a1a2a"/>
<path d="M621 371.5 L619.3 364 L623.2 369 Z M630.2 370.5 L633.2 363.5 L629 368.6 Z" fill="#d8a422"/>
<path d="M626 361.8 L628.2 366.4 L624.4 366.4 Z" fill="#6cb044"/>
<circle cx="626.2" cy="368.6" r="3.1" fill="#3c3c70"/>
<path d="M618.3 376.5 L621 371.2 L631.2 371.2 L634.2 376.2 L632 379.2 L633.4 385 L630.4 390.8 L622 390.8 L618.8 385 L620.6 379.4 Z" fill="#2b2746"/>
<path d="M619.6 377.6 L633 377.4 L631.8 379.8 L620.8 380 Z" fill="#d8a82a"/>
<path d="M622.6 372.6 h7 v3.6 h-7z" fill="#5c5aa4"/>
<path d="M619.6 385.4 L633 385 L632 387.6 L620.6 388 Z" fill="#c89a28"/>
<path d="M623 381 h6.4 v3.4 h-6.4z" fill="#4a4684"/>
<line x1="134" y1="76" x2="134" y2="222" stroke="#d4464a" stroke-width="2.2" opacity="0.92"/>
<line x1="702" y1="76" x2="702" y2="411" stroke="#d4464a" stroke-width="2.2" opacity="0.92"/>
<line x1="248.4" y1="620" x2="248.4" y2="675" stroke="#d4464a" stroke-width="2.2" opacity="0.92"/>
<polygon points="130.4,222.8 134.0,219.2 137.6,222.8 134.0,226.4" fill="#f03020" stroke="#f03020" stroke-width="0.5"/>
<polygon points="132.5,222.8 134.0,221.3 135.5,222.8 134.0,224.3" fill="#ffe0d0"/>
<polygon points="698.2,411.5 701.8,407.9 705.4,411.5 701.8,415.1" fill="#f03020" stroke="#f03020" stroke-width="0.5"/>
<polygon points="700.3,411.5 701.8,410.0 703.3,411.5 701.8,413.0" fill="#ffe0d0"/>
<polygon points="244.8,619.5 248.4,615.9 252.0,619.5 248.4,623.1" fill="#f03020" stroke="#f03020" stroke-width="0.5"/>
<polygon points="246.9,619.5 248.4,618.0 249.9,619.5 248.4,621.0" fill="#ffe0d0"/>
<line x1="624" y1="137" x2="624" y2="374" stroke="#ffffff" stroke-width="1.8"/>
<line x1="556.5" y1="394" x2="556.5" y2="487" stroke="#ffffff" stroke-width="1.8"/>
<line x1="698" y1="507" x2="698" y2="675" stroke="#ffffff" stroke-width="1.8"/>
<line x1="363.5" y1="76" x2="576" y2="266.6" stroke="#ffffff" stroke-width="2"/>
<line x1="207.5" y1="392.8" x2="461" y2="436.2" stroke="#ffffff" stroke-width="2"/>
<line x1="229" y1="505" x2="329" y2="563" stroke="#ffffff" stroke-width="2"/>
<polygon points="620.0,374.4 623.6,370.8 627.2,374.4 623.6,378.0" fill="#ffffff" stroke="#ffffff" stroke-width="0.5"/>
<polygon points="622.1,374.4 623.6,372.9 625.1,374.4 623.6,375.9" fill="#b04030"/>
<polygon points="553.0,393.6 556.6,390.0 560.2,393.6 556.6,397.2" fill="#ffffff" stroke="#ffffff" stroke-width="0.5"/>
<polygon points="555.1,393.6 556.6,392.1 558.1,393.6 556.6,395.1" fill="#b04030"/>
<polygon points="694.4,506.8 698.0,503.1 701.6,506.8 698.0,510.4" fill="#ffffff" stroke="#ffffff" stroke-width="0.5"/>
<polygon points="696.5,506.8 698.0,505.2 699.5,506.8 698.0,508.2" fill="#b04030"/>
<rect x="24" y="43" width="220" height="34" rx="6.5" ry="6.5" fill="#a90f31"/>
<text class="lb" x="134.0" y="69.9" style="font-size:28px;font-weight:500" text-anchor="middle" textLength="205" lengthAdjust="spacingAndGlyphs" fill="#fff" stroke="#fff" stroke-width="0.55">オービタルベース</text>
<rect x="254" y="43" width="221" height="34" rx="6.5" ry="6.5" fill="#fff"/>
<text class="lb" x="364.5" y="69.9" style="font-size:28px;font-weight:500" text-anchor="middle" textLength="206" lengthAdjust="spacingAndGlyphs" fill="#000" stroke="#000" stroke-width="0.55">サークルサーチ/5</text>
<rect x="487" y="43" width="290" height="34" rx="6.5" ry="6.5" fill="#a90f31"/>
<text class="lb" x="632.0" y="69.9" style="font-size:28px;font-weight:500" text-anchor="middle" textLength="276" lengthAdjust="spacingAndGlyphs" fill="#fff" stroke="#fff" stroke-width="0.55">日本のコスモウェーブ1</text>
<rect x="35" y="373.5" width="172.5" height="35" rx="6.5" ry="6.5" fill="#fff"/>
<text class="lb" x="121.25" y="402.8" style="font-size:33px;font-weight:400" text-anchor="middle" textLength="159" lengthAdjust="spacingAndGlyphs" fill="#000" stroke="#000" stroke-width="1.0">HP+200/290</text>
<rect x="35" y="486" width="194" height="34.5" rx="6.5" ry="6.5" fill="#fff"/>
<text class="lb" x="132.0" y="513.15" style="font-size:28px;font-weight:500" text-anchor="middle" textLength="180" lengthAdjust="spacingAndGlyphs" fill="#000" stroke="#000" stroke-width="0.55">プラスキャノン</text>
<rect x="125" y="675" width="247" height="34" rx="6.5" ry="6.5" fill="#a90f31"/>
<text class="lb" x="248.5" y="701.9" style="font-size:28px;font-weight:500" text-anchor="middle" textLength="232" lengthAdjust="spacingAndGlyphs" fill="#fff" stroke="#fff" stroke-width="0.55">シーサーアイランド</text>
<text class="br" transform="translate(446 129.5) skewX(-5)" x="0" y="0" font-size="24.5" textLength="236" lengthAdjust="spacingAndGlyphs" stroke-linejoin="round" fill="#420a0a" stroke="#420a0a" stroke-width="4.2">ムーンディザスター</text>
<text class="br" transform="translate(446 129.5) skewX(-5)" x="0" y="0" font-size="24.5" textLength="236" lengthAdjust="spacingAndGlyphs" stroke-linejoin="round" fill="#e21a1a" stroke="#e21a1a" stroke-width="1.0">ムーンディザスター</text>
<text class="br" transform="translate(486 703) skewX(-3)" x="0" y="0" font-size="24.5" textLength="281" lengthAdjust="spacingAndGlyphs" stroke-linejoin="round" fill="#420a0a" stroke="#420a0a" stroke-width="4.2">ファントムブラックV2</text>
<text class="br" transform="translate(486 703) skewX(-3)" x="0" y="0" font-size="24.5" textLength="281" lengthAdjust="spacingAndGlyphs" stroke-linejoin="round" fill="#e21a1a" stroke="#e21a1a" stroke-width="1.0">ファントムブラックV2</text>
<text class="br" transform="translate(516.5 513) skewX(-6)" x="0" y="0" font-size="29" textLength="107" lengthAdjust="spacingAndGlyphs" stroke-linejoin="round" fill="#ffffff" stroke="#ffffff" stroke-width="6.6">ショップ</text>
<text class="br" transform="translate(516.5 513) skewX(-6)" x="0" y="0" font-size="29" textLength="107" lengthAdjust="spacingAndGlyphs" stroke-linejoin="round" fill="#000000" stroke="#000000" stroke-width="0.6">ショップ</text>
<text class="br" transform="translate(10.5 787) skewX(0)" x="0" y="0" font-size="33" textLength="339" lengthAdjust="spacingAndGlyphs" stroke-linejoin="round" fill="#000000" stroke="#000000" stroke-width="5.3999999999999995">日本のコスモウェーブ2</text>
<text class="br" transform="translate(10.5 787) skewX(0)" x="0" y="0" font-size="33" textLength="339" lengthAdjust="spacingAndGlyphs" stroke-linejoin="round" fill="#fff200" stroke="#fff200" stroke-width="0.8">日本のコスモウェーブ2</text>
<text x="282" y="407.3" font-family="Liberation Sans,sans-serif" font-weight="700" font-size="17" textLength="237" lengthAdjust="spacingAndGlyphs" fill="#ffffff" opacity="0.25">© https://warewareguide.com</text>
<text x="477" y="790" font-family="Liberation Sans,sans-serif" font-weight="700" font-size="24" textLength="313" lengthAdjust="spacingAndGlyphs" fill="#ffffff" opacity="0.24">© https://warewareguide.com</text>
</svg></body></html>
